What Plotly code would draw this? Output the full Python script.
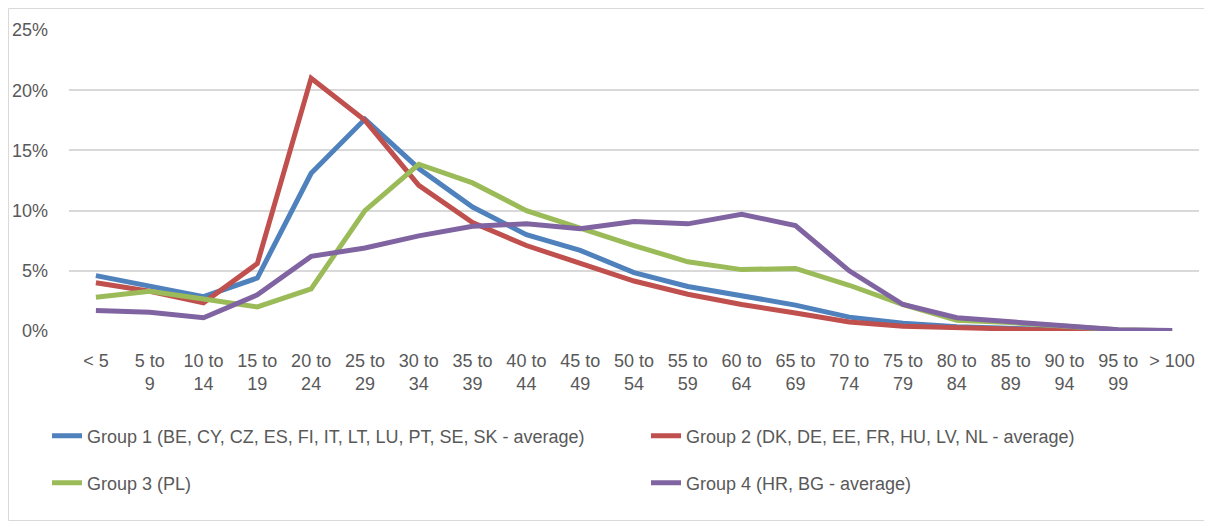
import plotly.graph_objects as go

categories = ["&lt; 5", "5 to<br>9", "10 to<br>14", "15 to<br>19", "20 to<br>24", "25 to<br>29",
              "30 to<br>34", "35 to<br>39", "40 to<br>44", "45 to<br>49", "50 to<br>54", "55 to<br>59",
              "60 to<br>64", "65 to<br>69", "70 to<br>74", "75 to<br>79", "80 to<br>84", "85 to<br>89",
              "90 to<br>94", "95 to<br>99", "&gt; 100"]

group1 = [4.6, 3.7, 2.85, 4.4, 13.1, 17.6, 13.5, 10.3, 8.0, 6.7, 4.85, 3.7, 2.9, 2.15, 1.15, 0.65, 0.35, 0.2, 0.1, 0.05, 0.02]
group2 = [4.0, 3.3, 2.35, 5.6, 21.0, 17.5, 12.1, 9.0, 7.1, 5.6, 4.15, 3.05, 2.2, 1.5, 0.75, 0.4, 0.25, 0.15, 0.05, 0.03, 0.01]
group3 = [2.8, 3.3, 2.65, 2.0, 3.5, 10.0, 13.85, 12.3, 10.0, 8.5, 7.1, 5.75, 5.1, 5.2, 3.8, 2.2, 0.9, 0.7, 0.35, 0.1, 0.02]
group4 = [1.7, 1.55, 1.1, 3.0, 6.2, 6.9, 7.9, 8.7, 8.9, 8.5, 9.1, 8.9, 9.7, 8.75, 5.0, 2.2, 1.1, 0.75, 0.35, 0.1, 0.05]

names = ["Group 1 (BE, CY, CZ, ES, FI, IT, LT, LU, PT, SE, SK - average)",
         "Group 2 (DK, DE, EE, FR, HU, LV, NL - average)",
         "Group 3 (PL)",
         "Group 4 (HR, BG - average)"]
colors = ["#4F81BD", "#C0504D", "#9BBB59", "#8064A2"]
ytick_vals = [0, 5, 10, 15, 20, 25]
ytick_text = ["0%", "5%", "10%", "15%", "20%", "25%"]

FONT = "Liberation Sans, Arial, sans-serif"
TXT = "#595959"

fig = go.Figure()
series = [group1, group2, group3, group4]
legends = ["legend", "legend2", "legend3", "legend4"]
for s, n, c, lg in zip(series, names, colors, legends):
    fig.add_trace(go.Scatter(x=list(range(len(categories))), y=s, name=n, mode="lines",
                             line=dict(color=c, width=5), legend=lg, showlegend=True))

# page body has an 8px margin, so the figure is 8px smaller than the window
W, H = 1204, 513
ml, mr, mt, mb = 61, 13, 22, 190
pw, ph = W - ml - mr, H - mt - mb

def px_x(x):
    return (x - ml) / pw

def px_y(y):
    return (H - mb - y) / ph

legfont = dict(family=FONT, size=18, color=TXT)
leg_common = dict(font=legfont, bgcolor="rgba(0,0,0,0)", xanchor="left", yanchor="middle",
                  itemwidth=30, borderwidth=0)

fig.update_layout(
    width=W, height=H,
    showlegend=True,
    margin=dict(l=ml, r=mr, t=mt, b=mb, autoexpand=False),
    paper_bgcolor="white", plot_bgcolor="white",
    font=dict(family=FONT, size=18, color=TXT),
    xaxis=dict(tickmode="array", tickvals=list(range(len(categories))), ticktext=categories,
               range=[-0.5, len(categories) - 0.5], showgrid=False, zeroline=False,
               showline=False, ticks="", ticklabelstandoff=17, automargin=False,
               tickfont=dict(family=FONT, size=18, color=TXT)),
    yaxis=dict(tickmode="array", tickvals=ytick_vals, ticktext=ytick_text, range=[0, 25],
               showgrid=True, gridcolor="#D9D9D9", gridwidth=1.5, zeroline=False,
               showline=False, ticks="", ticklabelstandoff=20, automargin=False,
               tickfont=dict(family=FONT, size=18, color=TXT)),
    legend=dict(x=px_x(39), y=px_y(428), **leg_common),
    legend2=dict(x=px_x(638), y=px_y(428), **leg_common),
    legend3=dict(x=px_x(39), y=px_y(475), **leg_common),
    legend4=dict(x=px_x(638), y=px_y(475), **leg_common),
    shapes=[dict(type="rect", xref="paper", yref="paper",
                 x0=px_x(0.5), x1=px_x(W - 0.5), y0=px_y(H - 0.5), y1=px_y(0.5),
                 line=dict(color="#D9D9D9", width=1), fillcolor="rgba(0,0,0,0)", layer="below")],
)

fig.write_html("out.html")
